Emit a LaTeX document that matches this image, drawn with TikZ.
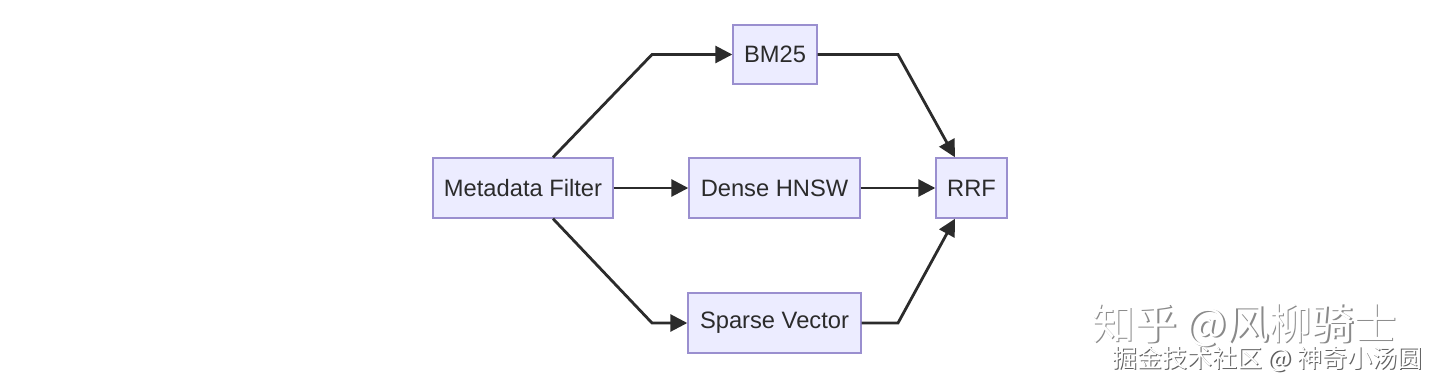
\documentclass[tikz,border=0pt]{standalone}
\usepackage{fontspec}
\setmainfont{Liberation Sans}
\newfontfamily\cjk{Noto Sans CJK SC}
\usetikzlibrary{arrows.meta}
\definecolor{nodefill}{HTML}{ECECFF}
\definecolor{nodeborder}{HTML}{9A8FCF}
\definecolor{ink}{HTML}{2B2B2B}
\definecolor{wmshadow}{HTML}{8A8A8A}
\tikzset{
  box/.style={draw=nodeborder, fill=nodefill, line width=1.4pt, minimum height=60pt,
    inner sep=0pt, text=ink, font=\fontsize{23.7}{27}\selectfont},
  link/.style={draw=ink, line width=2.8pt, -{Triangle[length=17pt,width=17pt]}},
  wm/.style={anchor=west, inner sep=0pt},
}
\begin{document}
\begin{tikzpicture}[x=1pt,y=-1pt]
\useasboundingbox[fill=white] (0,0) rectangle (1440,386);
\node[box, minimum width=180pt] (mf) at (523,188) {Metadata Filter};
\node[box, minimum width=84pt, minimum height=59pt] (bm) at (775,54.5) {BM25};
\node[box, minimum width=171pt] (dn) at (774.5,188) {Dense HNSW};
\node[box, minimum width=173pt] (sv) at (774.5,323) {Sparse Vector};
\node[box, minimum width=71pt] (rrf) at (971.5,188) {RRF};
\coordinate (a1) at (652,54.5);
\coordinate (a2) at (652,323);
\coordinate (b1) at (898,54.5);
\coordinate (b2) at (898,323);
\draw[link] ([xshift=30pt]mf.north) -- (a1) -- (bm.west);
\draw[link] (mf.east) -- (dn.west);
\draw[link] ([xshift=30pt]mf.south) -- (a2) -- (sv.west);
\draw[link] (bm.east) -- (b1) -- ([xshift=-16.5pt]rrf.north);
\draw[link] (dn.east) -- (rrf.west);
\draw[link] (sv.east) -- (b2) -- ([xshift=-16.5pt]rrf.south);
% watermark
\node[wm, text=wmshadow, font=\cjk\fontsize{42.5}{46}\selectfont] (w1s) at (1093.5,326.5) {知乎 @风柳骑士};
\node[wm, text=white, font=\cjk\fontsize{42.5}{46}\selectfont] (w1) at (1092,325) {知乎 @风柳骑士};
\node[wm, text=wmshadow!70!black, font=\cjk\fontsize{25}{28}\selectfont] (w2s) at (1113.5,360.5) {掘金技术社区 @ 神奇小汤圆};
\node[wm, text=white, font=\cjk\fontsize{25}{28}\selectfont] (w2) at (1112,359) {掘金技术社区 @ 神奇小汤圆};
\end{tikzpicture}
\end{document}
